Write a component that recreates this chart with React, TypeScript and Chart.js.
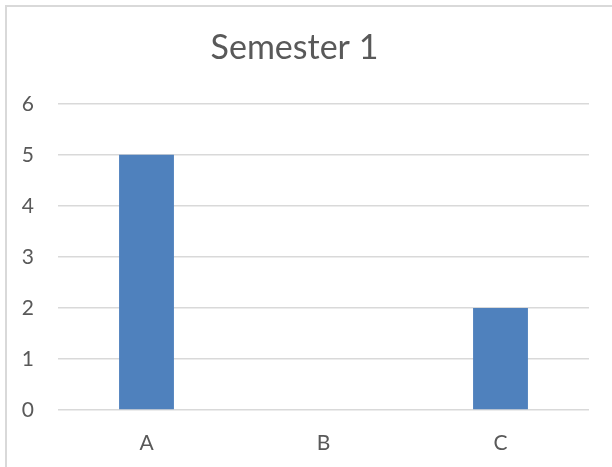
import React, { useEffect, useRef } from "react";
import { Chart, registerables } from "chart.js";

Chart.register(...registerables);

const categories = ["A", "B", "C"];
const seriesValues = [5, 0, 2];
const yTicks = [0, 1, 2, 3, 4, 5, 6];
const chartTitle = "Semester 1";

export default function App() {
  const ref = useRef<HTMLCanvasElement | null>(null);

  useEffect(() => {
    if (!ref.current) return;
    const font = "Lato, 'Open Sans', sans-serif";
    const chart = new Chart(ref.current, {
      type: "bar",
      data: {
        labels: categories,
        datasets: [
          {
            label: "Semester 1",
            data: seriesValues,
            backgroundColor: "#4f81bd",
            borderWidth: 0,
            barPercentage: 0.31,
            categoryPercentage: 1,
          },
        ],
      },
      options: {
        animation: false,
        responsive: false,
        maintainAspectRatio: false,
        layout: { padding: { top: 28, bottom: 13, left: 0, right: 23 } },
        plugins: {
          legend: { display: false },
          tooltip: { enabled: false },
          title: {
            display: true,
            text: chartTitle,
            color: "#595959",
            font: { family: font, size: 34, weight: "normal" },
            padding: { top: 0, bottom: 35 },
          },
        },
        scales: {
          x: {
            grid: { display: false, drawTicks: false },
            border: { display: false },
            afterFit: (axis: any) => {
              axis.height = 44;
            },
            ticks: {
              color: "#595959",
              font: { family: font, size: 21 },
              padding: 21,
            },
          },
          y: {
            min: yTicks[0],
            max: yTicks[yTicks.length - 1],
            grid: { color: "#d9d9d9", lineWidth: 1.5, drawTicks: false },
            border: { display: false },
            afterFit: (axis: any) => {
              axis.width = 58;
            },
            ticks: {
              stepSize: 1,
              color: "#595959",
              font: { family: font, size: 21 },
              padding: 24,
              callback: (v: any) => String(v),
            },
          },
        },
      },
    });
    return () => chart.destroy();
  }, []);

  return (
    <div style={{ position: "fixed", left: 0, top: 0, width: 612, height: 467, background: "#fff", overflow: "hidden" }}>
      <div
        style={{
          position: "absolute",
          left: 5,
          top: 5,
          width: 640,
          height: 500,
          border: "2px solid #d9d9d9",
          boxSizing: "border-box",
        }}
      />
      <canvas ref={ref} width={612} height={467} style={{ position: "absolute", left: 0, top: 0 }} />
    </div>
  );
}
